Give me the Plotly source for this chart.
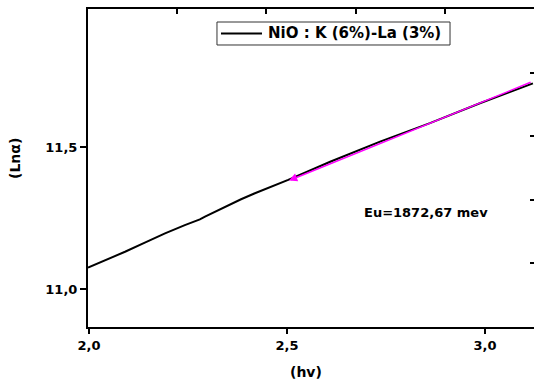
import plotly.graph_objects as go

# Absorption edge: ln(alpha) versus photon energy
hv = [1.9975, 2.040, 2.091, 2.141, 2.192, 2.242, 2.280, 2.293, 2.343,
      2.384, 2.419, 2.503, 2.609, 2.735, 2.861, 2.987, 3.121]
ln_alpha = [11.076, 11.101, 11.132, 11.164, 11.197, 11.226, 11.246, 11.256,
            11.291, 11.317, 11.338, 11.385, 11.449, 11.520, 11.585, 11.655,
            11.725]

# Linear fit segment used for the Urbach energy
fit_hv = [2.505, 3.119]
fit_ln = [11.383, 11.731]

series_name = "NiO : K (6%)-La (3%)"
eu_label = "Eu=1872,67 mev"

x_range = [1.9975, 3.1237]
y_range = [10.867, 11.987]

FONT = "DejaVu Sans, Arial, sans-serif"


def bold(s):
    return "<b>" + s + "</b>"


fig = go.Figure()
fig.add_trace(go.Scatter(x=hv, y=ln_alpha, mode="lines", name=series_name,
                         line=dict(color="black", width=2), showlegend=False))
# helper trace so the secondary (top/right) frame axes are drawn
fig.add_trace(go.Scatter(x=[None], y=[None], xaxis="x2", yaxis="y2",
                         showlegend=False, hoverinfo="skip"))

# fit line drawn as an arrow pointing to its lower end
fig.add_annotation(x=fit_hv[0], y=fit_ln[0], ax=fit_hv[1], ay=fit_ln[1],
                   xref="x", yref="y", axref="x", ayref="y", text="",
                   showarrow=True, arrowhead=2, arrowsize=1.1, arrowwidth=1.5,
                   arrowcolor="#ff00ff", standoff=0, startstandoff=0)

fig.add_annotation(x=2.851, y=11.272, xref="x", yref="y", text=bold(eu_label),
                   showarrow=False,
                   font=dict(family=FONT, size=13, color="black"))

# axis titles
fig.add_annotation(x=0.489, y=-0.1415, xref="paper", yref="paper", text=bold("(hv)"),
                   showarrow=False, xanchor="center", yanchor="middle",
                   font=dict(family=FONT, size=14, color="black"))
fig.add_annotation(x=-0.164, y=0.531, xref="paper", yref="paper", text=bold("(Lnα)"),
                   showarrow=False, textangle=-90, xanchor="center", yanchor="middle",
                   font=dict(family=FONT, size=14, color="black"))

# legend box: frame, line sample and series name
fig.add_shape(type="rect", xref="paper", yref="paper",
              x0=0.2892, x1=0.8117, y0=0.8868, y1=0.9591,
              line=dict(color="#333333", width=1), fillcolor="white")
fig.add_shape(type="line", xref="paper", yref="paper",
              x0=0.2982, x1=0.3901, y0=0.9230, y1=0.9230,
              line=dict(color="black", width=2))
fig.add_annotation(x=0.3991, y=0.9230, xref="paper", yref="paper",
                   text=bold(series_name), showarrow=False,
                   xanchor="left", yanchor="middle",
                   font=dict(family=FONT, size=15, color="black"))

tick_font = dict(family=FONT, size=13, color="black")

fig.update_layout(
    width=534, height=383,
    margin=dict(l=88, r=0, t=9, b=56),
    paper_bgcolor="white", plot_bgcolor="white",
    separators=",.",
    font=dict(family=FONT, size=13, color="black"),
    showlegend=False,
    xaxis=dict(range=x_range, tickvals=[2.0, 2.5, 3.0],
               ticktext=[bold(t) for t in ["2,0", "2,5", "3,0"]],
               showline=True, linecolor="black", linewidth=2,
               ticks="outside", ticklen=5, tickwidth=2, tickcolor="black",
               showgrid=False, zeroline=False, tickfont=tick_font),
    yaxis=dict(range=y_range, tickvals=[11.0, 11.5],
               ticktext=[bold(t) for t in ["11,0", "11,5"]],
               showline=True, linecolor="black", linewidth=2,
               ticks="outside", ticklen=6, tickwidth=2, tickcolor="black",
               showgrid=False, zeroline=False, tickfont=tick_font),
    xaxis2=dict(overlaying="x", side="top", range=[0, 5], tickvals=[1, 2, 3, 4],
                showline=True, linecolor="black", linewidth=2,
                ticks="inside", ticklen=5, tickwidth=2, tickcolor="black",
                showticklabels=False, showgrid=False, zeroline=False),
    yaxis2=dict(overlaying="y", side="right", range=[0, 5], tickvals=[1, 2, 3, 4],
                showline=False,
                ticks="inside", ticklen=4, tickwidth=2, tickcolor="black",
                showticklabels=False, showgrid=False, zeroline=False),
)

fig.write_html("out.html")
